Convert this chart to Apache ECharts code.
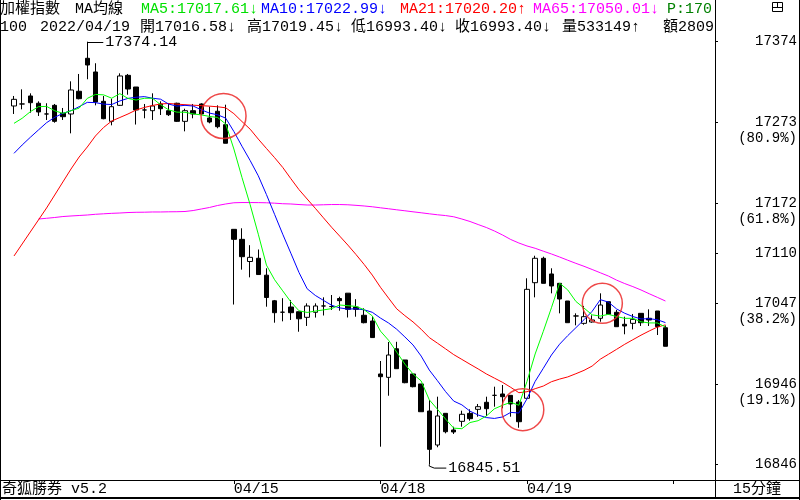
<!DOCTYPE html>
<html><head><meta charset="utf-8">
<script src="https://cdn.jsdelivr.net/npm/echarts@6/dist/echarts.min.js"></script>
<style>html,body{margin:0;padding:0;background:#fff}#c{width:800px;height:500px}</style>
</head><body><div id="c"></div>
<script>
// ---- data (15-minute bars, 加權指數) ----
const opens=[17293.8,17296.3,17306.3,17297.2,17283.8,17294.6,17284.6,17283.8,17312.2,17353.4,
17336.3,17299.6,17274.6,17294.6,17332.1,17317.5,17288.8,17287.9,17296.3,17287.9,
17297.2,17274.6,17287.9,17296.3,17278.8,17287.2,17270.4,17139.6,17127.1,17099.4,
17103.4,17082.3,17050.3,17036.0,17042.5,17036.6,17029.6,17035.9,17043.8,17043.1,
17053.1,17059.8,17042.5,17032.2,17025.0,16958.8,16954.6,16990.3,16976.3,16958.8,
16946.3,16912.5,16870.0,16909.6,16888.8,16899.6,16909.6,16914.6,16923.4,16932.1,
16933.8,16932.1,16923.8,16928.4,17072.9,17103.4,17083.8,17072.1,17050.0,17031.3,
17022.1,17023.8,17028.4,17049.1,17035.9,17020.9,17022.1,17034.6,17028.4,17037.5,17016.58];
const closes=[17302.1,17296.3,17297.9,17286.3,17283.8,17274.6,17280.4,17313.8,17302.9,17345.0,
17298.8,17277.9,17292.9,17331.3,17315.0,17288.8,17288.8,17293.8,17290.4,17282.9,
17274.6,17287.9,17283.8,17283.8,17273.8,17267.9,17247.2,17127.1,17105.4,17104.6,
17083.1,17054.4,17035.4,17036.0,17035.4,17027.8,17043.8,17043.8,17043.8,17043.1,
17050.4,17039.6,17039.6,17022.9,17004.3,16955.4,16982.5,16965.4,16947.9,16942.9,
16911.6,16864.6,16906.3,16886.6,16886.3,16908.4,16902.9,16917.9,16915.4,16932.1,
16930.4,16921.3,16899.1,17064.6,17103.4,17072.1,17068.8,17052.5,17022.9,17031.3,
17030.4,17026.3,17045.0,17033.4,17017.9,17018.8,17027.1,17022.9,17026.3,17017.9,16993.40];
const lows=[17283.8,17289.6,17285.4,17281.3,17276.3,17272.9,17276.3,17259.6,17302.1,17327.2,
17294.6,17277.2,17269.6,17293.8,17307.9,17270.6,17278.4,17276.3,17282.5,17281.3,
17273.8,17262.1,17278.4,17282.5,17272.1,17265.9,17247.2,17045.6,17089.2,17079.6,
17083.1,17042.9,17022.9,17024.6,17026.3,17011.6,17018.8,17029.3,17031.9,17038.8,
17037.9,17029.4,17030.4,17022.1,17004.3,16867.9,16931.6,16965.4,16947.2,16942.1,
16911.6,16845.51,16867.2,16884.6,16883.8,16892.9,16900.4,16905.4,16906.3,16917.9,
16915.9,16905.4,16891.6,16928.4,17054.6,17072.1,17059.6,17034.6,17022.9,17019.6,
17020.4,17022.9,17024.1,17033.4,17017.9,17008.4,17014.6,17018.8,17018.8,17007.5,16993.40];
const highs=[17306.3,17314.6,17309.6,17299.6,17297.2,17296.3,17291.3,17324.6,17333.8,17374.14,
17347.2,17306.3,17302.9,17334.6,17333.8,17317.5,17296.3,17309.6,17299.6,17297.2,
17297.9,17290.4,17296.3,17297.2,17292.9,17294.6,17295.4,17139.6,17140.9,17119.8,
17114.4,17090.9,17051.3,17053.5,17051.3,17036.6,17047.1,17047.1,17054.6,17057.5,
17055.4,17059.8,17052.3,17040.9,17031.3,16975.0,16998.8,16999.0,16976.3,16958.8,
16946.3,16926.3,16930.4,16909.6,16892.9,16912.9,16914.6,16921.3,16930.4,16942.9,
16945.0,16932.1,16926.3,17078.4,17106.6,17105.4,17090.9,17072.1,17050.0,17034.6,
17043.8,17032.1,17059.6,17049.1,17038.8,17030.4,17033.8,17034.6,17039.6,17037.5,17019.45];
const ma5=[17272.1,17278.4,17286.6,17292.9,17293.3,17287.8,17284.6,17287.8,17291.1,17303.3,
17308.2,17307.7,17303.5,17309.2,17303.2,17301.2,17303.4,17303.5,17295.4,17288.9,
17286.1,17285.9,17283.9,17282.6,17280.8,17279.4,17271.3,17240.0,17204.3,17170.4,
17133.5,17094.9,17076.6,17062.7,17048.9,17037.8,17035.7,17037.4,17038.9,17040.5,
17045.0,17044.1,17043.3,17039.1,17031.4,17012.4,17000.9,16986.1,16971.1,16958.8,
16950.1,16926.5,16914.7,16902.4,16891.1,16890.4,16898.1,16900.4,16906.2,16915.3,
16919.7,16923.4,16919.7,16949.5,16983.8,17012.1,17041.6,17072.3,17063.9,17049.5,
17041.2,17032.7,17031.2,17033.3,17030.6,17028.3,17028.4,17024.0,17022.6,17022.6,17017.61];
const ma10=[17234.6,17245.0,17254.6,17263.8,17272.9,17279.6,17284.6,17287.9,17292.9,17298.3,
17298.0,17296.1,17295.6,17300.1,17303.3,17304.7,17305.5,17303.5,17302.3,17296.1,
17293.6,17294.6,17293.7,17289.0,17284.9,17282.8,17278.6,17261.9,17243.4,17225.6,
17206.5,17183.1,17158.3,17133.5,17109.7,17085.6,17065.3,17057.0,17050.8,17044.7,
17041.4,17039.9,17040.3,17039.0,17035.9,17028.7,17022.5,17014.7,17005.1,16995.1,
16981.2,16963.7,16950.4,16936.7,16924.9,16920.2,16912.3,16907.5,16904.3,16903.2,
16905.1,16910.8,16910.0,16927.8,16949.5,16965.9,16982.5,16996.0,17006.7,17016.6,
17026.6,17037.1,17051.7,17048.6,17040.1,17034.7,17030.6,17027.6,17027.9,17026.6,17022.99];
const ma21=[17106.3,17121.3,17136.3,17151.3,17166.3,17182.5,17198.8,17215.0,17230.0,17242.5,
17256.3,17266.9,17275.0,17279.4,17283.8,17288.8,17291.9,17294.4,17296.3,17296.9,
17296.1,17295.4,17294.8,17294.2,17293.6,17292.8,17291.5,17284.2,17274.3,17264.8,
17252.4,17240.7,17229.2,17217.0,17202.9,17189.2,17177.5,17165.9,17154.0,17142.2,
17131.1,17119.9,17108.1,17095.7,17082.4,17067.2,17053.6,17040.2,17031.7,17023.9,
17014.7,17004.3,16997.3,16990.2,16983.0,16977.0,16971.0,16965.1,16958.9,16953.6,
16948.3,16942.1,16935.4,16936.6,16940.4,16943.7,16949.1,16952.4,16955.1,16959.1,
16963.3,16968.7,16977.3,16983.4,16989.6,16995.9,17001.6,17007.3,17012.5,17017.4,17020.20];
const ma65=[null,null,null,17152.5,17153.4,17154.4,17155.6,17156.3,17156.9,17157.5,
17158.4,17159.0,17159.6,17160.0,17160.6,17160.9,17161.0,17161.3,17161.3,17161.5,
17161.6,17161.9,17163.1,17165.0,17166.9,17169.4,17171.3,17172.8,17173.1,17173.1,
17173.0,17172.8,17172.3,17171.6,17171.3,17170.6,17170.0,17170.0,17170.3,17170.6,
17170.6,17170.3,17169.6,17168.8,17167.8,17166.5,17165.3,17164.0,17162.8,17161.5,
17160.3,17159.0,17157.8,17156.8,17155.3,17152.5,17149.4,17145.6,17141.9,17137.5,
17132.5,17126.9,17122.5,17118.8,17115.9,17112.3,17108.8,17105.0,17101.0,17097.1,
17093.4,17089.4,17085.3,17081.2,17076.1,17071.8,17068.0,17063.8,17059.1,17054.6,17050.01];
const totalSlots=86;
const dayStartIdx=[27,45,63,81];
const dayLabels=['04/15','04/18','04/19',''];
const yTickValues=[17374.14,17273.17,17172.2,17109.83,17047.45,16946.48,16845.51];
const yTickText=['17374','17273','17172','17110','17047','16946','16846'];
const yTickPct=['','(80.9%)','(61.8%)','','(38.2%)','(19.1%)',''];
const header1=[['加權指數','#000'],['MA均線','#000'],['MA5:17017.61↓','#00e000'],['MA10:17022.99↓','#0000ff'],
  ['MA21:17020.20↑','#ff0000'],['MA65:17050.01↓','#ff00ff'],['P:170','#008000']];
const header2=['100','2022/04/19','開17016.58↓','高17019.45↓','低16993.40↓','收16993.40↓','量533149↑','額2809'];
const circleMarks=[[25.73,17281.3,22.5],[62.48,16914.2,21],[72.25,17047.1,20]];
const footerLeft='奇狐勝券 v5.2';
const footerRight='15分鐘';

// ---- chart ----
const FONT='"Liberation Mono","Noto Sans CJK TC",monospace';
const h1x=[0,75,141,261,400,533,667];
const h2x=[0,40,140,247,351,455,562,663];
const chart=echarts.init(document.getElementById('c'),null,{renderer:'canvas',width:800,height:500});
const cats=[];for(let i=0;i<totalSlots;i++)cats.push(String(i));
const kdata=opens.map((o,i)=>[o,closes[i],lows[i],highs[i]]);
const lineS=(d,c)=>({type:'line',data:d,symbol:'none',showSymbol:false,silent:true,
  lineStyle:{color:c,width:1},itemStyle:{color:c},z:3});
chart.setOption({
  animation:false,backgroundColor:'#fff',
  grid:{left:9.93,right:89.77,top:20,bottom:20},
  xAxis:{type:'category',data:cats,boundaryGap:true,axisLine:{show:false},
    axisTick:{show:true,alignWithLabel:true,length:4,interval:(i)=>dayStartIdx.includes(i),lineStyle:{color:'#000',width:1}},
    axisLabel:{interval:(i)=>dayStartIdx.includes(i),formatter:(v,i)=>{const k=dayStartIdx.indexOf(i);return k>=0?dayLabels[k]:'';},
      align:'left',margin:2,color:'#000',fontFamily:FONT,fontSize:15},
    splitLine:{show:false}},
  yAxis:{type:'value',position:'right',offset:4.77,min:16826.265,max:17401.265,axisLine:{show:false},
    axisTick:{show:true,inside:false,length:3,customValues:yTickValues,lineStyle:{color:'#000',width:1}},
    axisLabel:{customValues:yTickValues,formatter:(v)=>{let k=0,b=1e9;yTickValues.forEach((t,j)=>{if(Math.abs(t-v)<b){b=Math.abs(t-v);k=j;}});
        return yTickPct[k]?(' \n'+yTickText[k]+'\n'+yTickPct[k]):yTickText[k];},
      align:'right',margin:82,color:'#000',fontFamily:FONT,fontSize:14,lineHeight:16},
    splitLine:{show:false}},
  series:[
    {type:'candlestick',data:kdata,barWidth:5,silent:true,z:2,
      itemStyle:{color:'#fff',color0:'#000',borderColor:'#000',borderColor0:'#000',borderColorDoji:'#000',borderWidth:1}},
    lineS(ma65,'#ff00ff'),lineS(ma21,'#ff0000'),lineS(ma10,'#0000ff'),lineS(ma5,'#00ff00')
  ]
});

const px=(i,v)=>chart.convertToPixel({gridIndex:0},[i,v]);
const pxf=(fi,v)=>{const a=Math.floor(fi),f=fi-a;const p0=px(a,v),p1=px(a+1,v);return [p0[0]+f*(p1[0]-p0[0]),p0[1]];};
const g=[];
const txt=(x,y,t,c,opt)=>g.push(Object.assign({type:'text',x:x,y:y,z:20,style:Object.assign({text:t,fill:c||'#000',font:'15px '+FONT,verticalAlign:'top',align:'left'},opt||{})}));
const ln=(x1,y1,x2,y2,w)=>g.push({type:'line',z:20,shape:{x1,y1,x2,y2},style:{stroke:'#000',lineWidth:w||1}});
header1.forEach((h,k)=>txt(h1x[k],2,h[0],h[1]));
header2.forEach((h,k)=>txt(h2x[k],20,h,'#000'));
// frame
ln(0.5,0,0.5,500);ln(715.5,0,715.5,498);ln(799.5,0,799.5,500);ln(0,480.5,800,480.5);ln(0,498,800,498,2);
// icon
g.push({type:'rect',z:20,shape:{x:772.5,y:2.5,width:10,height:9},style:{stroke:'#000',fill:'none',lineWidth:1}});
ln(772.5,7.5,782.5,7.5);ln(777.5,2.5,777.5,7.5);
// footer
txt(2,489,footerLeft,'#000',{verticalAlign:'middle'});
txt(757,489,footerRight,'#000',{verticalAlign:'middle',align:'center'});
// high / low labels
const hiV=Math.max(...highs),hiI=highs.indexOf(hiV);
const loV=Math.min(...lows),loI=lows.indexOf(loV);
const hp=px(hiI,hiV),lp=px(loI,loV);
ln(hp[0],Math.round(hp[1])+0.5,hp[0]+16,Math.round(hp[1])+0.5);
txt(hp[0]+18,hp[1],hiV.toFixed(2),'#000',{verticalAlign:'middle'});
g.push({type:'polyline',z:20,shape:{points:[[lp[0],lp[1]],[lp[0],lp[1]+1.5],[lp[0]+5,lp[1]+3.5],[lp[0]+17,lp[1]+3.5]]},style:{stroke:'#000',fill:'none',lineWidth:1}});
txt(lp[0]+19,lp[1]+3,loV.toFixed(2),'#000',{verticalAlign:'middle'});
// circles
circleMarks.forEach(c=>{const p=pxf(c[0],c[1]);g.push({type:'circle',z:30,shape:{cx:p[0],cy:p[1],r:c[2]},style:{stroke:'rgba(235,40,40,0.85)',fill:'none',lineWidth:1.5}});});
chart.setOption({graphic:g});
</script></body></html>
